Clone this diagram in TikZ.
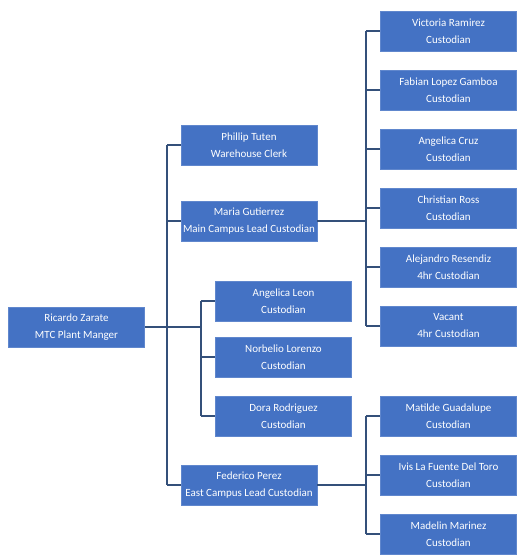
\documentclass[tikz,border=0pt]{standalone}
\usepackage{fontspec}
\setmainfont{Carlito}
\definecolor{boxblue}{HTML}{4472C4}
\definecolor{linecol}{HTML}{34507A}
\tikzset{
  person/.style={fill=boxblue, draw=boxblue!85!white, line width=0.6pt, text=white, minimum width=136pt, minimum height=40pt, inner sep=0pt, align=center, font=\fontsize{11}{17}\selectfont},
  link/.style={draw=linecol, line width=1.1pt}
}
\begin{document}
\begin{tikzpicture}[x=1pt,y=-1pt]
\useasboundingbox (0,0) rectangle (531,556);
% level 1
\node[person] (ric) at (76.5,327) {Ricardo Zarate\\MTC Plant Manger};
% level 2
\node[person] (phi) at (249,145) {Phillip Tuten\\Warehouse Clerk};
\node[person] (mar) at (249,221) {Maria Gutierrez\\Main Campus Lead Custodian};
\node[person] (ale) at (283.5,301) {Angelica Leon\\Custodian};
\node[person] (nor) at (283.5,357) {Norbelio Lorenzo\\Custodian};
\node[person] (dor) at (283.5,416) {Dora Rodriguez\\Custodian};
\node[person] (fed) at (249,485) {Federico Perez\\East Campus Lead Custodian};
% level 3 (main campus)
\node[person] (vic) at (448.5,31) {Victoria Ramirez\\Custodian};
\node[person] (fab) at (448.5,90) {Fabian Lopez Gamboa\\Custodian};
\node[person] (acr) at (448.5,149) {Angelica Cruz\\Custodian};
\node[person] (chr) at (448.5,208) {Christian Ross\\Custodian};
\node[person] (alj) at (448.5,267) {Alejandro Resendiz\\4hr Custodian};
\node[person] (vac) at (448.5,326) {Vacant\\4hr Custodian};
% level 3 (east campus)
\node[person] (mat) at (448.5,416) {Matilde Guadalupe\\Custodian};
\node[person] (ivi) at (448.5,475) {Ivis La Fuente Del Toro\\Custodian};
\node[person] (mad) at (448.5,534) {Madelin Marinez\\Custodian};
% trunk coordinates
\coordinate (t1top) at (167,145);
\coordinate (t1bot) at (167,485);
\coordinate (t2top) at (201,301);
\coordinate (t2bot) at (201,416);
\coordinate (rj) at (201,327);
\coordinate (t3top) at (366,31);
\coordinate (t3bot) at (366,326);
\coordinate (t4top) at (366,416);
\coordinate (t4bot) at (366,534);
% connectors
\draw[link] (t1top) -- (t1bot);
\draw[link] (ric.east) -- (rj);
\draw[link] (t2top) -- (t2bot);
\draw[link] (t1top) -- (phi.west);
\draw[link] (mar.west) -| (t1top);
\draw[link] (t1bot) -- (fed.west);
\draw[link] (t2top) -- (ale.west);
\draw[link] (nor.west) -| (t2top);
\draw[link] (t2bot) -- (dor.west);
\draw[link] (t3top) -- (t3bot);
\draw[link] (mar.east) -| (t3top);
\draw[link] (t3top) -- (vic.west);
\draw[link] (fab.west) -| (t3top);
\draw[link] (acr.west) -| (t3top);
\draw[link] (chr.west) -| (t3top);
\draw[link] (alj.west) -| (t3top);
\draw[link] (t3bot) -- (vac.west);
\draw[link] (t4top) -- (t4bot);
\draw[link] (fed.east) -| (t4top);
\draw[link] (t4top) -- (mat.west);
\draw[link] (ivi.west) -| (t4top);
\draw[link] (t4bot) -- (mad.west);
\end{tikzpicture}
\end{document}
